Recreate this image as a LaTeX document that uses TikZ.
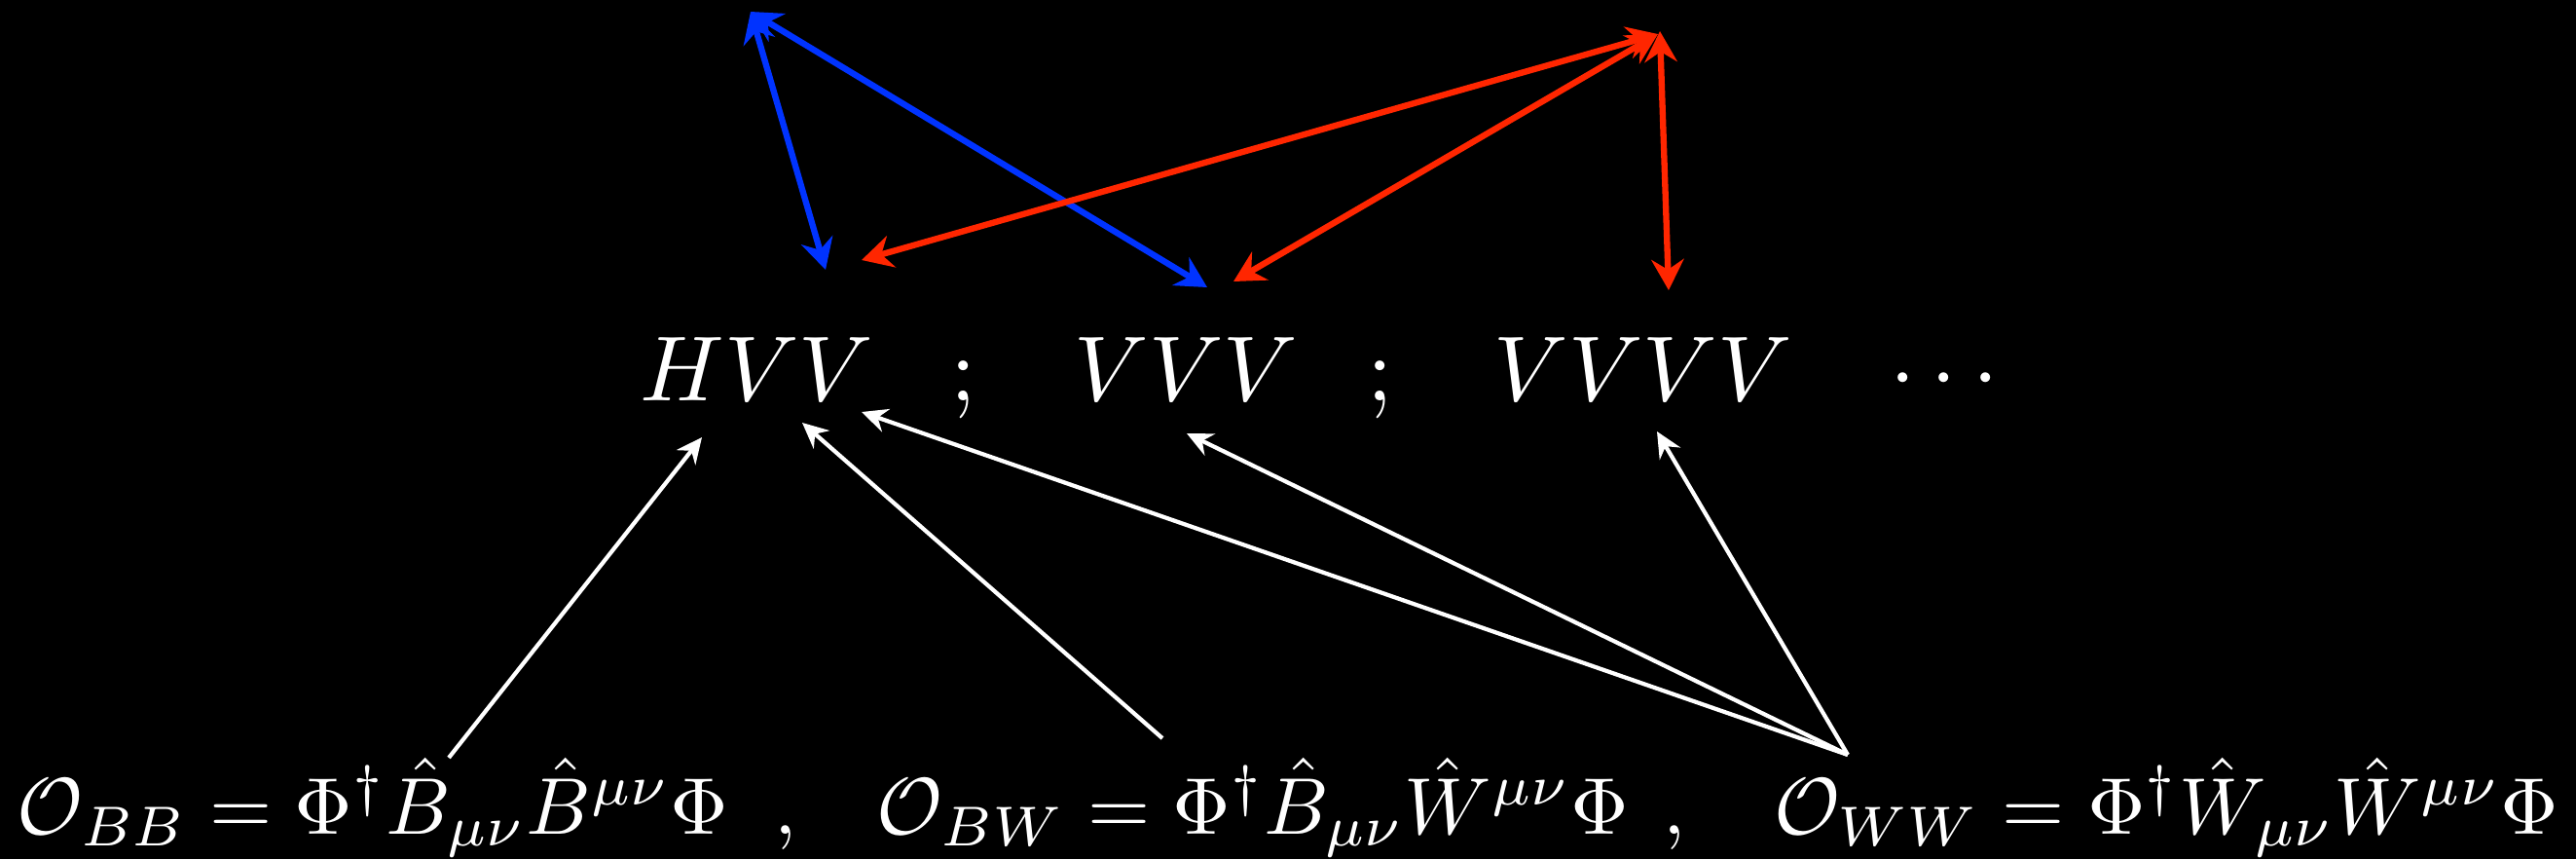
\documentclass[tikz,border=0pt]{standalone}
\usepackage{amsmath}
\usetikzlibrary{arrows.meta}
\definecolor{linkblue}{RGB}{0,51,255}
\definecolor{linkred}{RGB}{255,38,0}

\begin{document}
\begin{tikzpicture}[
  txt/.style={text=white, inner sep=0pt, scale=2.7},
  optxt/.style={text=white, inner sep=0pt, scale=2.35},
  feeds/.style={white, line width=1.2pt, -{Stealth[length=7.5pt, width=7pt, inset=2.5pt]}},
  mix/.style={line width=1.8pt, {Stealth[length=9pt, width=9.5pt, inset=3pt]}-{Stealth[length=9pt, width=9.5pt, inset=3pt]}}
]
\fill[black] (0,0) rectangle (26.46,8.82);
\useasboundingbox (0,0) rectangle (26.46,8.82);

% vertices
\node[txt, anchor=base west] (hvv) at (6.56,4.71) {$HVV$};
\node[txt, anchor=base] (semi1) at (9.90,4.71) {$;$};
\node[txt, anchor=base west] (vvv) at (11.02,4.71) {$VVV$};
\node[txt, anchor=base] (semi2) at (14.18,4.71) {$;$};
\node[txt, anchor=base west] (vvvv) at (15.33,4.71) {$VVVV$};
\node[txt, anchor=base west] (dots) at (19.40,4.71) {$\cdots$};

% operators
\node[optxt, anchor=base] (obb) at (3.83,0.26) {$\mathcal{O}_{BB} = \Phi^\dagger\hat{B}_{\mu\nu}\hat{B}^{\mu\nu}\Phi$};
\node[optxt, anchor=base] (comma1) at (8.07,0.26) {$,$};
\node[optxt, anchor=base] (obw) at (12.87,0.26) {$\mathcal{O}_{BW} = \Phi^\dagger\hat{B}_{\mu\nu}\hat{W}^{\mu\nu}\Phi$};
\node[optxt, anchor=base] (comma2) at (17.20,0.26) {$,$};
\node[optxt, anchor=base] (oww) at (22.25,0.26) {$\mathcal{O}_{WW} = \Phi^\dagger\hat{W}_{\mu\nu}\hat{W}^{\mu\nu}\Phi$};

\coordinate (bbTail) at (4.61,1.04);
\coordinate (bwTail) at (11.94,1.24);
\coordinate (wwTail) at (18.98,1.07);
\coordinate (hvvA) at (7.21,4.33);
\coordinate (hvvB) at (8.24,4.48);
\coordinate (hvvC) at (8.85,4.59);
\coordinate (vvvA) at (12.19,4.37);
\coordinate (vvvvA) at (17.02,4.39);

\draw[feeds] (bbTail) -- (hvvA);
\draw[feeds] (bwTail) -- (hvvB);
\draw[feeds] (wwTail) -- (hvvC);
\draw[feeds] (wwTail) -- (vvvA);
\draw[feeds] (wwTail) -- (vvvvA);

% correlations
\coordinate (bTop) at (7.71,8.70);
\coordinate (rTop) at (17.03,8.47);
\coordinate (rTopV) at (17.05,8.50);
\coordinate (hvvUp) at (8.48,6.05);
\coordinate (vvvUp) at (12.40,5.87);
\coordinate (hvvUpR) at (8.85,6.15);
\coordinate (vvvUpR) at (12.67,5.93);
\coordinate (vvvvUp) at (17.14,5.84);

\draw[mix, linkblue] (bTop) -- (hvvUp);
\draw[mix, linkblue] (bTop) -- (vvvUp);
\draw[mix, linkred] (rTop) -- (hvvUpR);
\draw[mix, linkred] (rTop) -- (vvvUpR);
\draw[mix, linkred] (rTopV) -- (vvvvUp);
\end{tikzpicture}
\end{document}
